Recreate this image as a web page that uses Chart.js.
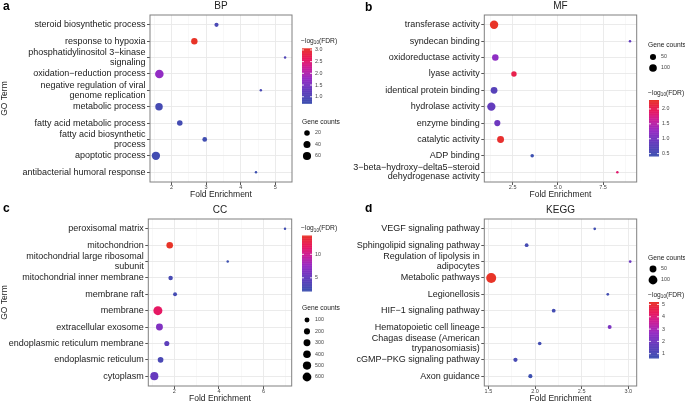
<!DOCTYPE html>
<html>
<head>
<meta charset="utf-8">
<script src="https://cdn.jsdelivr.net/npm/chart.js@4.4.0/dist/chart.umd.min.js"></script>
<style>
    html, body { margin: 0; padding: 0; background: #fff; width: 685px; height: 402px; overflow: hidden; }
    canvas { position: absolute; }
</style>
</head>
<body>
<canvas id="bpChart" width="345" height="200" style="left:0;top:0"></canvas>
<canvas id="mfChart" width="345" height="200" style="left:340px;top:0"></canvas>
<canvas id="ccChart" width="345" height="200" style="left:0;top:204px"></canvas>
<canvas id="keggChart" width="345" height="200" style="left:340px;top:204px"></canvas>
<script>
// --- Data: BP ---
const bpTerms = [
    "steroid biosynthetic process", "response to hypoxia", ["phosphatidylinositol 3\u2212kinase", "signaling"],
    "oxidation\u2212reduction process", ["negative regulation of viral", "genome replication"], "metabolic process",
    "fatty acid metabolic process", ["fatty acid biosynthetic", "process"], "apoptotic process",
    "antibacterial humoral response"
];
const bpFold = [3.30, 2.66, 5.28, 1.65, 4.58, 1.64, 2.24, 2.96, 1.55, 4.44];
const bpCount = [8, 30, 3, 70, 3, 48, 20, 12, 64, 3];
const bpLogFdr = [0.92, 3.07, 1.00, 1.75, 0.90, 0.85, 0.82, 0.78, 0.80, 0.72];
const bpTicks = [2, 3, 4, 5];
const bpSizeBreaks = [20, 40, 60];
const bpColorTicks = [1.0, 1.5, 2.0, 2.5, 3.0];

// --- Data: MF ---
const mfTerms = [
    "transferase activity", "syndecan binding", "oxidoreductase activity", "lyase activity",
    "identical protein binding", "hydrolase activity", "enzyme binding", "catalytic activity", "ADP binding",
    ["3\u2212beta\u2212hydroxy\u2212delta5\u2212steroid", "dehydrogenase activity"]
];
const mfFold = [1.47, 8.99, 1.54, 2.57, 1.47, 1.32, 1.65, 1.83, 3.58, 8.29];
const mfCount = [130, 4, 62, 35, 70, 125, 52, 75, 8, 4];
const mfLogFdr = [2.30, 0.85, 1.20, 2.05, 0.72, 0.85, 0.95, 2.25, 0.42, 1.85];
const mfTicks = [2.5, 5.0, 7.5];
const mfSizeBreaks = [50, 100];
const mfColorTicks = [0.5, 1.0, 1.5, 2.0];

// --- Data: CC ---
const ccTerms = [
    "peroxisomal matrix", "mitochondrion", ["mitochondrial large ribosomal", "subunit"],
    "mitochondrial inner membrane", "membrane raft", "membrane", "extracellular exosome",
    "endoplasmic reticulum membrane", "endoplasmic reticulum", "cytoplasm"
];
const ccFold = [6.96, 1.79, 4.39, 1.83, 2.03, 1.26, 1.33, 1.66, 1.38, 1.10];
const ccCount = [10, 260, 10, 70, 40, 640, 300, 110, 160, 480];
const ccLogFdr = [2.5, 14.0, 2.2, 3.0, 2.8, 11.5, 6.5, 4.5, 3.2, 5.2];
const ccTicks = [2, 4, 6];
const ccSizeBreaks = [100, 200, 300, 400, 500, 600];
const ccColorTicks = [5, 10];

// --- Data: KEGG ---
const keggTerms = [
    "VEGF signaling pathway", "Sphingolipid signaling pathway", ["Regulation of lipolysis in", "adipocytes"],
    "Metabolic pathways", "Legionellosis", "HIF\u22121 signaling pathway", "Hematopoietic cell lineage",
    ["Chagas disease (American", "trypanosomiasis)"], "cGMP\u2212PKG signaling pathway", "Axon guidance"
];
const keggFold = [2.64, 1.91, 3.02, 1.53, 2.78, 2.20, 2.80, 2.05, 1.79, 1.95];
const keggCount = [6, 9, 6, 140, 6, 9, 10, 8, 12, 11];
const keggLogFdr = [0.75, 0.90, 1.90, 5.20, 0.80, 0.85, 2.20, 0.80, 0.95, 0.65];
const keggTicks = [1.5, 2.0, 2.5, 3.0];
const keggSizeBreaks = [50, 100];
const keggColorTicks = [1, 2, 3, 4, 5];

const FONT = "'Liberation Sans', Arial, sans-serif";
Chart.defaults.font.family = FONT;

// blue -> purple -> magenta -> red
const gradStops = [
    [0.00, [61, 80, 176]],
    [0.25, [102, 58, 190]],
    [0.45, [150, 44, 196]],
    [0.65, [205, 30, 150]],
    [0.80, [232, 24, 95]],
    [1.00, [232, 52, 40]]
];

function gradient(t) {
    t = Math.max(0, Math.min(1, t));
    for (let i = 1; i < gradStops.length; i++) {
        const [t1, c1] = gradStops[i];
        const [t0, c0] = gradStops[i - 1];
        if (t <= t1) {
            const f = (t - t0) / (t1 - t0);
            const c = c0.map((v, k) => Math.round(v + (c1[k] - v) * f));
            return `rgb(${c[0]},${c[1]},${c[2]})`;
        }
    }
    return "rgb(232,52,40)";
}

function fdrTitle(ctx, x, y) {
    ctx.textBaseline = "middle";
    ctx.textAlign = "left";
    ctx.fillStyle = "#222";
    ctx.font = `6.7px ${FONT}`;
    ctx.fillText("\u2212log", x, y);
    let w = ctx.measureText("\u2212log").width;
    ctx.font = `4.6px ${FONT}`;
    ctx.fillText("10", x + w, y + 1.9);
    w += ctx.measureText("10").width;
    ctx.font = `6.7px ${FONT}`;
    ctx.fillText("(FDR)", x + w, y);
}

// frame, titles and the two legends
const panelDecor = {
    id: "panelDecor",
    afterDraw(chart, args, o) {
        const { ctx, chartArea: ca } = chart;
        ctx.save();
        ctx.strokeStyle = "#808080";
        ctx.lineWidth = 1;
        ctx.strokeRect(ca.left, ca.top, ca.right - ca.left, ca.bottom - ca.top);

        ctx.fillStyle = "#222";
        ctx.textAlign = "center";
        ctx.textBaseline = "middle";
        ctx.font = `10px ${FONT}`;
        ctx.fillText(o.title, (ca.left + ca.right) / 2, o.titleY);

        ctx.textAlign = "left";
        ctx.textBaseline = "alphabetic";
        ctx.font = `bold 12px ${FONT}`;
        ctx.fillStyle = "#000";
        ctx.fillText(o.letter, o.letterX, o.letterY);

        // colour bar
        const cb = o.colorbar;
        fdrTitle(ctx, cb.x - 1, cb.titleY);
        const steps = 80;
        const h = cb.bottom - cb.top;
        for (let i = 0; i < steps; i++) {
            ctx.fillStyle = gradient(1 - (i + 0.5) / steps);
            ctx.fillRect(cb.x, cb.top + (h * i) / steps, 10, h / steps + 0.5);
        }
        ctx.font = `5.3px ${FONT}`;
        ctx.textBaseline = "middle";
        o.colorTicks.forEach(v => {
            const y = cb.bottom - ((v - o.cMin) / (o.cMax - o.cMin)) * h;
            ctx.strokeStyle = "#fff";
            ctx.lineWidth = 0.8;
            ctx.beginPath();
            ctx.moveTo(cb.x, y); ctx.lineTo(cb.x + 2, y);
            ctx.moveTo(cb.x + 8, y); ctx.lineTo(cb.x + 10, y);
            ctx.stroke();
            ctx.fillStyle = "#444";
            ctx.fillText(o.colorDigits ? v.toFixed(o.colorDigits) : String(v), cb.x + 13, y);
        });

        // gene counts
        const sl = o.sizeLegend;
        ctx.fillStyle = "#222";
        ctx.font = `6.7px ${FONT}`;
        ctx.fillText("Gene counts", sl.x, sl.titleY);
        o.sizeBreaks.forEach((b, i) => {
            const y = sl.firstY + i * sl.step;
            ctx.fillStyle = "#000";
            ctx.beginPath();
            ctx.arc(sl.x + 5, y, o.radius(b), 0, Math.PI * 2);
            ctx.fill();
            ctx.fillStyle = "#444";
            ctx.font = `5.3px ${FONT}`;
            ctx.fillText(String(b), sl.x + 13, y);
        });
        ctx.restore();
    }
};

function makePanel(id, p) {
    const cMin = Math.min(...p.fdr), cMax = Math.max(...p.fdr);
    const vMin = Math.min(...p.count), vMax = Math.max(...p.count);
    const radius = v => p.rMin + (p.rMax - p.rMin) * Math.sqrt(Math.max(0, (v - vMin) / (vMax - vMin)));

    const step = p.ticks[1] - p.ticks[0];
    const minor = [];
    for (let v = p.ticks[0] - step / 2; v < p.xMax; v += step) {
        if (v > p.xMin) minor.push(+v.toFixed(4));
    }
    const xTicks = p.ticks.concat(minor).sort((a, b) => a - b);
    const isMinor = v => minor.includes(+v.toFixed(4));

    new Chart(document.getElementById(id), {
        type: "bubble",
        data: {
            datasets: [{
                data: p.fold.map((x, i) => ({ x, y: i, r: radius(p.count[i]) })),
                backgroundColor: p.fdr.map(f => gradient((f - cMin) / (cMax - cMin))),
                borderWidth: 0,
                hoverRadius: 0
            }]
        },
        options: {
            responsive: false,
            animation: false,
            events: [],
            layout: { padding: { top: 15, right: p.padRight, left: 0, bottom: 0 } },
            plugins: {
                legend: { display: false },
                tooltip: { enabled: false },
                panelDecor: {
                    title: p.title, titleY: 6.5, letter: p.letter, letterX: p.letterX, letterY: p.letterY,
                    colorbar: p.colorbar, colorTicks: p.colorTicks, colorDigits: p.colorDigits,
                    cMin, cMax, sizeLegend: p.sizeLegend, sizeBreaks: p.sizeBreaks, radius
                }
            },
            scales: {
                x: {
                    type: "linear",
                    min: p.xMin,
                    max: p.xMax,
                    bounds: "data",
                    afterFit: s => { s.height = 18; },
                    afterBuildTicks: s => { s.ticks = xTicks.map(v => ({ value: v })); },
                    ticks: {
                        autoSkip: false,
                        maxRotation: 0,
                        padding: 0,
                        color: "#444",
                        font: { size: 5.5, lineHeight: 1 },
                        callback: v => isMinor(v) ? "" : v.toFixed(p.xDigits)
                    },
                    grid: {
                        color: c => isMinor(c.tick.value) ? "#f4f4f4" : "#e9e9e9",
                        lineWidth: c => isMinor(c.tick.value) ? 0.6 : 0.9,
                        tickLength: 3,
                        tickColor: c => isMinor(c.tick.value) ? "rgba(0,0,0,0)" : "#444"
                    },
                    border: { display: false },
                    title: {
                        display: true, text: "Fold Enrichment", color: "#222",
                        font: { size: 8.5, lineHeight: 1.2 }, padding: 0
                    }
                },
                y: {
                    type: "linear",
                    reverse: true,
                    min: -0.6,
                    max: p.terms.length - 0.4,
                    bounds: "data",
                    afterFit: s => { s.width = p.axisWidth; },
                    afterBuildTicks: s => { s.ticks = p.terms.map((_, i) => ({ value: i })); },
                    ticks: {
                        autoSkip: false,
                        padding: 1.5,
                        color: "#1a1a1a",
                        font: { size: 9, lineHeight: 1.05 },
                        callback: v => p.terms[v]
                    },
                    grid: { color: "#e9e9e9", lineWidth: 0.9, tickLength: 3, tickColor: "#444" },
                    border: { display: false },
                    title: {
                        display: p.yTitle, text: "GO Term", color: "#222",
                        font: { size: 8.5, lineHeight: 1.2 }, padding: 0
                    }
                }
            }
        },
        plugins: [panelDecor]
    });
}

document.addEventListener("DOMContentLoaded", function () {
    makePanel("bpChart", {
        title: "BP", letter: "a", letterX: 3, letterY: 10, yTitle: true,
        terms: bpTerms, fold: bpFold, count: bpCount, fdr: bpLogFdr,
        ticks: bpTicks, xDigits: 0, xMin: 1.38, xMax: 5.48,
        axisWidth: 150, padRight: 53, rMin: 1.25, rMax: 4.3,
        sizeBreaks: bpSizeBreaks, colorTicks: bpColorTicks, colorDigits: 1,
        colorbar: { x: 302, titleY: 41, top: 48.3, bottom: 103.3 },
        sizeLegend: { x: 302, titleY: 122, firstY: 133, step: 11.5 }
    });

    makePanel("mfChart", {
        title: "MF", letter: "b", letterX: 25, letterY: 11, yTitle: false,
        terms: mfTerms, fold: mfFold, count: mfCount, fdr: mfLogFdr,
        ticks: mfTicks, xDigits: 1, xMin: 0.93, xMax: 9.36,
        axisWidth: 144.3, padRight: 48.3, rMin: 1.25, rMax: 4.2,
        sizeBreaks: mfSizeBreaks, colorTicks: mfColorTicks, colorDigits: 1,
        colorbar: { x: 309, titleY: 93, top: 100, bottom: 156 },
        sizeLegend: { x: 308, titleY: 45, firstY: 57, step: 11 }
    });

    makePanel("ccChart", {
        title: "CC", letter: "c", letterX: 3, letterY: 8, yTitle: true,
        terms: ccTerms, fold: ccFold, count: ccCount, fdr: ccLogFdr,
        ticks: ccTicks, xDigits: 0, xMin: 0.83, xMax: 7.26,
        axisWidth: 148.3, padRight: 53.3, rMin: 1.25, rMax: 4.5,
        sizeBreaks: ccSizeBreaks, colorTicks: ccColorTicks, colorDigits: 0,
        colorbar: { x: 302, titleY: 24.5, top: 31.5, bottom: 87 },
        sizeLegend: { x: 302, titleY: 104.5, firstY: 116, step: 11.4 }
    });

    makePanel("keggChart", {
        title: "KEGG", letter: "d", letterX: 25, letterY: 8, yTitle: false,
        terms: keggTerms, fold: keggFold, count: keggCount, fdr: keggLogFdr,
        ticks: keggTicks, xDigits: 1, xMin: 1.456, xMax: 3.09,
        axisWidth: 144.3, padRight: 48.3, rMin: 1.35, rMax: 5.0,
        sizeBreaks: keggSizeBreaks, colorTicks: keggColorTicks, colorDigits: 0,
        colorbar: { x: 309, titleY: 91, top: 98, bottom: 154 },
        sizeLegend: { x: 308, titleY: 54, firstY: 65, step: 11 }
    });
});
</script>
</body>
</html>
